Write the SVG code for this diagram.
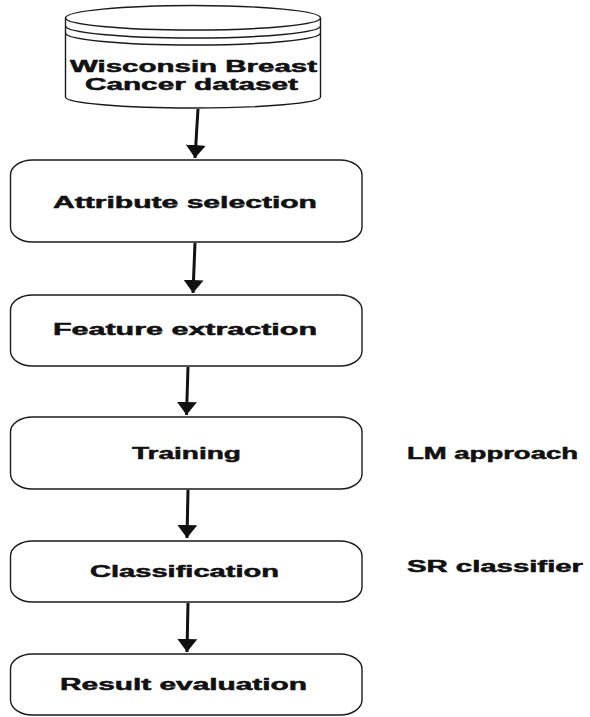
<svg xmlns="http://www.w3.org/2000/svg" width="590" height="717" viewBox="0 0 590 717">
<style>
.shape{fill:#ffffff;stroke:#1a1a1a;stroke-width:1.4}
.ring{fill:none;stroke:#1a1a1a;stroke-width:1.4}
.lbl{font-family:"Liberation Sans",Arial,sans-serif;font-weight:bold;font-size:16px;fill:#111;stroke:#111;stroke-width:0.5}
.edge{stroke:#111;stroke-width:3;fill:none}
</style>
<defs>
<marker id="ah" markerUnits="userSpaceOnUse" markerWidth="14" markerHeight="22" refX="13" refY="11" orient="auto" viewBox="0 0 14 22">
<path d="M0,1 L13,11 L0,21 z" fill="#111"/>
</marker>
</defs>
<rect width="590" height="717" fill="#ffffff"/>
<g id="dataset">
<path class="shape" d="M65.5,18 L65.5,97 A127.5,11 0 0 0 320.5,97 L320.5,18 A127.5,12.5 0 0 0 65.5,18 Z"/>
<path class="ring" d="M65.5,18 A127.5,12 0 0 0 320.5,18"/>
<path class="ring" d="M65.5,26 A127.5,12 0 0 0 320.5,26"/>
<path class="ring" d="M65.5,33 A127.5,12 0 0 0 320.5,33"/>
<text class="lbl" x="70" y="72" textLength="247" lengthAdjust="spacingAndGlyphs">Wisconsin Breast</text>
<text class="lbl" x="85" y="90" textLength="213" lengthAdjust="spacingAndGlyphs">Cancer dataset</text>
</g>
<g id="attribute">
<rect class="shape" x="10.5" y="160" width="351.5" height="82" rx="22" ry="15"/>
<text class="lbl" x="53" y="208" textLength="264" lengthAdjust="spacingAndGlyphs">Attribute selection</text>
</g>
<g id="feature">
<rect class="shape" x="10.5" y="295" width="351.5" height="71" rx="22" ry="15"/>
<text class="lbl" x="53" y="335" textLength="264" lengthAdjust="spacingAndGlyphs">Feature extraction</text>
</g>
<g id="training">
<rect class="shape" x="10.5" y="417" width="351.5" height="72" rx="22" ry="15"/>
<text class="lbl" x="132" y="459" textLength="109" lengthAdjust="spacingAndGlyphs">Training</text>
</g>
<g id="classification">
<rect class="shape" x="10.5" y="541" width="351.5" height="61" rx="22" ry="15"/>
<text class="lbl" x="90" y="577" textLength="189" lengthAdjust="spacingAndGlyphs">Classification</text>
</g>
<g id="result">
<rect class="shape" x="10.5" y="654" width="351.5" height="61" rx="22" ry="15"/>
<text class="lbl" x="60" y="690" textLength="247" lengthAdjust="spacingAndGlyphs">Result evaluation</text>
</g>
<g id="lm">
<text class="lbl" x="407" y="459" textLength="171" lengthAdjust="spacingAndGlyphs">LM approach</text>
</g>
<g id="sr">
<text class="lbl" x="407" y="572" textLength="176" lengthAdjust="spacingAndGlyphs">SR classifier</text>
</g>
<g id="connectors">
<line class="edge" x1="198" y1="109" x2="195" y2="158" marker-end="url(#ah)"/>
<line class="edge" x1="195" y1="243" x2="193" y2="293" marker-end="url(#ah)"/>
<line class="edge" x1="188" y1="367" x2="186.5" y2="415" marker-end="url(#ah)"/>
<line class="edge" x1="188" y1="490" x2="187" y2="538" marker-end="url(#ah)"/>
<line class="edge" x1="188" y1="603" x2="187" y2="652" marker-end="url(#ah)"/>
</g>
</svg>
